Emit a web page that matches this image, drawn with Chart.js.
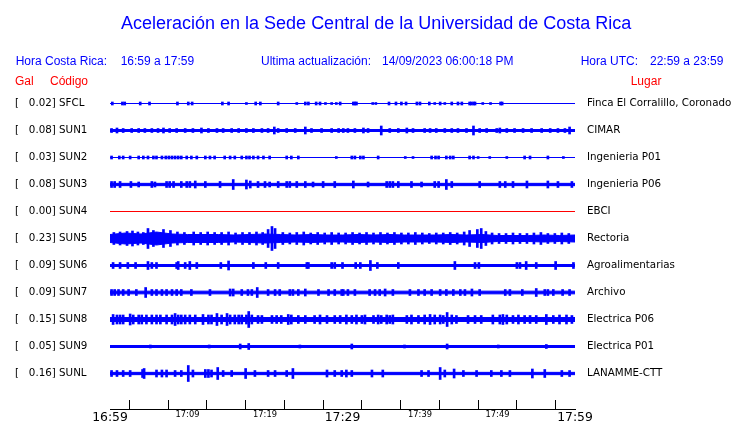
<!DOCTYPE html>
<html>
<head>
<meta charset="utf-8">
<script src="https://cdn.jsdelivr.net/npm/chart.js@4/dist/chart.umd.min.js"></script>
<style>
  body { margin: 0; background: #fff; }
  #wrap { position: relative; width: 740px; height: 423px; overflow: hidden; }
  #sismo { position: absolute; left: 0; top: 0; }
  .t { position: absolute; white-space: pre; line-height: 1; font-family: "Liberation Sans", Arial, sans-serif; font-size: 12px; color: #0000ff; }
  .rojo { color: #ff0000; }
  #titulo { font-size: 18px; left: 121px; top: 14px; }
</style>
</head>
<body>
<div id="wrap">
  <canvas id="sismo" width="740" height="423"></canvas>
  <div class="t" id="titulo">Aceleración en la Sede Central de la Universidad de Costa Rica</div>
  <div class="t" style="left:15.7px; top:54.8px">Hora Costa Rica:</div>
  <div class="t" style="left:120.7px; top:54.8px">16:59 a 17:59</div>
  <div class="t" style="left:261px; top:54.8px">Ultima actualización:</div>
  <div class="t" style="left:382px; top:54.8px">14/09/2023 06:00:18 PM</div>
  <div class="t" style="left:580.7px; top:54.8px">Hora UTC:</div>
  <div class="t" style="left:650px; top:54.8px">22:59 a 23:59</div>
  <div class="t rojo" style="left:15px; top:74.8px">Gal</div>
  <div class="t rojo" style="left:50px; top:74.8px">Código</div>
  <div class="t rojo" style="left:630.7px; top:74.8px">Lugar</div>
</div>
<script>
// canales, de arriba hacia abajo
const codes  = ['SFCL', 'SUN1', 'SUN2', 'SUN3', 'SUN4', 'SUN5', 'SUN6', 'SUN7', 'SUN8', 'SUN9', 'SUNL'];
const peaks  = [0.02, 0.08, 0.03, 0.08, 0.00, 0.23, 0.09, 0.09, 0.15, 0.05, 0.16];
const places = ['Finca El Corralillo, Coronado', 'CIMAR', 'Ingenieria P01', 'Ingenieria P06', 'EBCI', 'Rectoria',
                'Agroalimentarias', 'Archivo', 'Electrica P06', 'Electrica P01', 'LANAMME-CTT'];

// eje de tiempo, minutos desde las 16:59
const tickMinutes = [0, 10, 20, 30, 40, 50, 60];
const timeLabels  = ['16:59', '17:09', '17:19', '17:29', '17:39', '17:49', '17:59'];
const bigLabels   = [0, 30, 60];

// amplitud de fondo (semi-ancho) de cada traza
const coreAmp = [0, 1, 0, 1.15, 0, 4, 1, 1.35, 2, 1, 1.15];

// SUN5 tiene una envolvente variable
const sun5EnvT = [0, 2, 4, 6, 8, 10, 12, 14, 16, 18, 20, 22, 24, 26, 28, 30, 32, 34, 36, 38, 40, 42, 44, 46, 48, 50, 52, 54, 56, 58, 60];
const sun5EnvA = [4, 5.5, 4.5, 6.5, 4.5, 4, 4, 4, 3.5, 4, 4.5, 4, 3.5, 4, 3.5, 3.5, 4, 3.5, 4, 3.5, 3.5, 3.5, 4, 3.5, 4, 3, 3, 3, 3.5, 3, 3.5];

// picos: [minuto, semi-amplitud]
const spikesSFCL = [[0.3,1.5],[1.6,1.5],[1.9,1.5],[3.9,1.5],[5.1,1.5],[8.7,1.5],[10.1,1.5],[10.6,1.5],[14.5,1.5],[15.3,1.5],
  [17.6,1],[18.8,1.5],[19.4,1.5],[21.7,1.5],[24.1,1],[25.2,1.5],[25.6,1.5],[26.6,1.5],[27.1,1.5],[27.8,1],[28.6,1],[29.2,1],
  [29.7,1.5],[31.4,1.5],[31.6,1.5],[31.8,1.5],[33.9,1],[34.3,1],[36.0,1.5],[36.9,1.5],[37.6,1.5],[38.2,1.5],[39.6,1.5],
  [40.0,1.5],[41.2,1.5],[41.9,1],[42.6,1.5],[43.2,1],[44.1,1.5],[44.9,1.5],[45.4,1.5],[46.4,1.5],[46.6,1.5],[46.9,1.5],
  [47.1,1.5],[48.1,1],[49.1,1],[50.4,1.5],[50.6,1.5]];
const spikesSUN1 = [[0.2,2],[0.9,2.5],[1.7,2],[2.8,2],[3.7,2],[4.5,2],[5.4,2],[6.2,2],[6.9,2.5],[7.7,2],[8.6,2],[9.7,2],
  [10.7,2],[11.8,2.5],[12.7,2],[13.8,2],[14.6,2],[15.7,2],[16.6,2],[17.6,2],[18.5,2],[19.6,2],[20.4,2],[21.2,3.5],[21.7,2],
  [22.8,2],[23.9,2],[25.2,3.5],[26.0,2],[27.3,2],[28.6,2],[29.5,2],[30.1,2],[30.7,2],[31.6,2],[32.7,2.5],[33.3,2],[35.0,4.5],
  [36.1,2],[37.2,2],[38.3,2.5],[39.1,2],[40.6,2],[41.3,2],[42.1,2],[43.2,2],[44.1,2],[44.9,2],[46.0,2],[46.9,4.5],[47.7,2],
  [48.6,2],[49.9,2],[50.3,2.5],[51.2,2],[52.2,2],[53.3,2],[54.4,2],[55.7,2],[56.8,2],[57.8,2],[58.7,2],[59.3,3.5]];
const spikesSUN2 = [[0.2,1.5],[1.2,1.5],[1.7,1.5],[2.6,1.5],[3.7,1.5],[4.3,1.5],[4.9,1.5],[5.6,1.5],[6.0,1.5],[6.7,1.5],
  [7.2,1.5],[7.6,1.5],[8.0,1.5],[8.4,1.5],[8.8,1.5],[9.2,1.5],[9.9,1.5],[10.5,1.5],[11.2,1.5],[12.3,1.5],[12.9,1.5],[13.5,1.5],
  [14.8,1.5],[15.5,1.5],[16.1,1.5],[17.0,1.5],[17.6,1.5],[18.0,1.5],[18.5,1.5],[19.1,1.5],[19.8,1.5],[20.6,1.5],[22.8,1.5],
  [23.4,1.5],[24.3,1.5],[29.2,1],[31.2,1.5],[31.6,1.5],[32.3,1.5],[32.7,1.5],[34.6,1.5],[38.1,1],[39.1,1],[41.5,1.5],
  [42.0,1.5],[42.4,1.5],[43.4,1.5],[43.9,1.5],[44.3,1.5],[46.4,1.5],[46.9,1.5],[47.5,1],[49.0,1],[51.2,1],[53.5,1.5],
  [54.2,1.5],[56.5,1.5],[58.5,1]];
const spikesSUN3 = [[0.2,3],[0.6,3],[1.3,3],[2.7,3],[3.7,2.5],[5.4,3],[5.8,2.5],[7.3,3],[7.7,3],[8.2,3],[9.2,3],[9.9,3],
  [10.3,3],[11.0,3.5],[12.3,3],[14.2,3],[15.9,5],[17.6,4.5],[18.1,3.5],[19.1,3],[20.0,3],[20.6,2.5],[21.7,3],[22.8,3],
  [23.2,3],[24.1,3],[25.2,3],[26.2,2.5],[27.5,3],[29.0,3],[31.4,3.5],[33.3,2.5],[35.7,3],[36.1,3],[36.5,3],[37.2,3],
  [38.9,3],[40.2,2.5],[41.9,3],[42.4,3],[43.4,5],[44.1,3],[47.7,3],[50.3,3],[51.0,3],[52.0,3],[53.8,3.5],[56.5,3.5],
  [57.8,3],[59.6,3]];
const spikesSUN4 = [];
const spikesSUN5 = [[0.5,6],[1.3,6.5],[2.2,7],[2.9,7.5],[3.6,6.5],[4.3,6],[4.9,10],[5.6,8],[6.9,9],[7.8,8],[8.7,6.5],
  [9.6,6],[10.8,6.5],[11.7,6],[12.6,6.5],[13.5,6],[14.4,6],[15.3,6.5],[16.2,5.5],[17.1,6],[18.0,6],[18.9,6.5],[19.7,6],
  [20.4,9],[20.9,12],[21.3,10],[22.3,6],[23.2,5.5],[24.1,6],[25.0,6.5],[25.9,5.5],[26.8,6],[27.7,5.5],[28.6,6],[29.5,5.5],
  [30.4,5.5],[31.3,6],[32.2,5.5],[33.1,6],[34.0,5.5],[34.9,6],[35.8,5.5],[36.7,6],[37.6,5.5],[38.5,5.5],[39.4,6],[40.3,5.5],
  [41.2,5],[42.1,5.5],[43.0,5.5],[43.9,6],[44.8,5.5],[45.7,6.5],[46.4,8],[47.4,9],[47.9,10],[48.5,7],[49.3,5.5],[50.2,5],
  [51.1,5],[52.0,5.5],[52.9,5],[53.8,5],[54.7,5.5],[55.6,6],[56.5,5],[57.4,5],[58.3,5.5],[59.2,5]];
const spikesSUN6 = [[0.4,3],[1.3,3],[2.3,3],[3.3,3],[4.9,4],[5.4,3],[6.0,3],[8.6,3],[8.8,4],[9.7,3],[10.3,4],[11.2,3],
  [14.3,3],[15.3,4.5],[18.5,3],[20.1,3],[21.7,3],[25.4,3],[25.6,3],[28.6,3],[29.0,3],[30.0,3],[31.7,3],[32.3,3],[33.6,5],
  [34.5,3],[37.2,3],[44.5,4],[47.1,3],[47.6,3],[52.5,3],[52.9,3],[53.7,4],[55.0,3],[57.5,4],[59.8,3]];
const spikesSUN7 = [[0.2,3],[0.6,3],[1.1,3],[1.7,3],[2.4,3],[3.4,3],[4.6,5],[5.4,3],[6.0,3],[6.7,3],[7.3,3],[8.0,3],
  [8.6,3],[9.2,3],[10.5,3],[12.9,3],[15.5,3.5],[15.9,3.5],[17.0,3],[17.8,3],[18.3,3],[19.0,5],[20.4,3],[21.3,3],[21.9,3],
  [23.2,3],[23.6,3],[24.3,3],[25.2,3.5],[26.9,3],[28.2,3],[29.0,3],[29.9,3],[30.1,3],[30.7,3],[31.6,3],[33.5,3],[34.2,3],
  [34.8,3],[35.5,3.5],[36.5,3],[38.7,3],[39.8,3],[40.6,3],[41.5,3],[42.6,3],[43.4,3],[44.3,3],[45.2,3],[45.8,3],[46.7,3.5],
  [47.7,3],[51.0,3],[51.6,3],[53.2,3],[55.0,4],[56.1,3],[56.5,3],[57.2,3],[58.4,3],[59.3,3]];
const spikesSUN8 = [[0.4,5],[0.9,4.5],[1.3,4.5],[1.7,4.5],[2.6,5.5],[3.0,4.5],[3.7,4.5],[4.1,4.5],[4.7,4.5],[5.4,4.5],
  [6.0,4.5],[6.5,4.5],[7.3,4.5],[8.0,4.5],[8.4,6],[8.8,4.5],[9.2,4.5],[9.7,4.5],[10.3,4.5],[11.0,4.5],[12.0,5],[12.7,4.5],
  [13.1,4.5],[13.8,6],[14.4,4.5],[15.1,6],[15.5,4.5],[16.1,4.5],[16.6,4.5],[17.0,4.5],[17.6,4.5],[17.9,8],[18.3,4.5],
  [19.1,4],[19.6,4],[20.9,4],[21.5,4],[22.1,4],[23.0,5],[23.4,4.5],[24.3,4],[25.2,4],[26.4,4],[27.1,4.5],[28.0,4],[29.0,4],
  [29.7,4],[30.5,4.5],[31.2,4],[31.8,4.5],[32.5,4],[32.9,4.5],[34.0,4],[34.6,4.5],[35.0,4],[35.7,4.5],[36.1,4],[36.5,4.5],
  [38.3,4],[38.9,4.5],[39.8,4],[40.6,4.5],[41.3,5],[41.9,4.5],[42.6,4.5],[43.0,4],[43.5,7],[44.1,4.5],[44.7,4],[46.2,4],
  [47.1,4],[47.9,4],[49.4,4.5],[50.3,4.5],[50.7,5],[51.2,4.5],[52.0,4],[52.7,4.5],[53.5,4],[54.2,4],[55.0,4],[56.3,5],
  [57.2,4],[58.0,4.5],[58.9,4.5],[59.6,4]];
const spikesSUN9 = [[5.2,1.5],[12.8,1.5],[16.8,2.5],[17.9,3],[24.5,1.5],[31.2,2.5],[38.0,1.5],[43.5,2.5],[50.1,1.5],[56.3,2]];
const spikesSUNL = [[0.2,3],[0.9,3],[1.7,3],[2.6,3],[4.2,4],[4.4,5],[6.0,3.5],[6.7,3.5],[7.3,3.5],[8.4,3],[9.2,3],
  [10.1,8],[10.7,3.5],[12.3,4],[12.7,4],[13.1,3.5],[13.9,6],[14.6,3],[15.7,3],[17.5,5],[18.7,3],[20.4,3],[21.3,3],[22.8,3],
  [23.6,5],[28.0,3.5],[29.0,3],[29.9,3],[30.5,3.5],[31.2,3],[33.8,3.5],[35.2,3.5],[40.2,3],[41.1,3],[42.6,6],[43.2,3.5],
  [44.4,4.5],[45.6,3],[47.3,3],[49.2,3],[50.5,3],[51.6,3],[54.5,4.5],[56.1,4],[58.3,3],[59.3,3]];

const spikeSets = [spikesSFCL, spikesSUN1, spikesSUN2, spikesSUN3, spikesSUN4, spikesSUN5,
                   spikesSUN6, spikesSUN7, spikesSUN8, spikesSUN9, spikesSUNL];

const GAIN = 1 / 27;          // amplitud leida -> unidades de canal en el eje y
const BLUE = '#0000ff';
const RED = '#ff0000';
const yMin = -35.5 / 27;
const yMax = yMin + 319 / 27;

function buildDatasets() {
    let datasets = [];
    let bars = [];
    codes.forEach((code, i) => {
        let off = codes.length - 1 - i;
        let color = peaks[i] === 0 ? RED : BLUE;
        let t = code === 'SUN5' ? sun5EnvT : [tickMinutes[0], tickMinutes[tickMinutes.length - 1]];
        let a = code === 'SUN5' ? sun5EnvA : [coreAmp[i], coreAmp[i]];
        datasets.push({
            type: 'line', data: t.map((x, k) => ({ x: x, y: off + a[k] * GAIN })),
            borderColor: color, backgroundColor: color, borderWidth: 1, pointRadius: 0, fill: false
        });
        datasets.push({
            type: 'line', data: t.map((x, k) => ({ x: x, y: off - a[k] * GAIN })),
            borderColor: color, backgroundColor: color, borderWidth: 1, pointRadius: 0, fill: '-1'
        });
        spikeSets[i].forEach(s => bars.push({ x: s[0], y: [off - s[1] * GAIN, off + s[1] * GAIN] }));
    });
    datasets.push({ type: 'bar', data: bars, backgroundColor: BLUE, borderWidth: 0, barThickness: 2 });
    return datasets;
}

function channelLabel(list, value) {
    let i = codes.length - 1 - Math.round(value);
    return list(i);
}

const ctx = document.getElementById('sismo').getContext('2d');
new Chart(ctx, {
    type: 'bar',
    data: { datasets: buildDatasets() },
    options: {
        responsive: false,
        animation: false,
        devicePixelRatio: 1,
        layout: { padding: { left: 15, top: 90, right: 0, bottom: 0 } },
        plugins: { legend: { display: false }, tooltip: { enabled: false } },
        scales: {
            x: {
                type: 'linear', min: 0, max: 60, offset: false,
                grid: { drawOnChartArea: false, drawTicks: true, tickLength: -9, color: '#000', lineWidth: 1 },
                border: { display: true, color: '#000', width: 1 },
                ticks: {
                    stepSize: 5, autoSkip: false, maxRotation: 0, padding: 10, color: '#000',
                    font: c => ({ family: 'DejaVu Sans', size: (c.tick && bigLabels.includes(c.tick.value)) ? 12.4 : 8.3 }),
                    callback: v => { let k = tickMinutes.indexOf(v); return k < 0 ? '' : timeLabels[k]; }
                },
                afterFit: s => { s.height = 14; }
            },
            y: {
                position: 'left', min: yMin, max: yMax,
                grid: { display: false, drawTicks: false }, border: { display: false },
                afterBuildTicks: s => { s.ticks = codes.map((c, i) => ({ value: codes.length - 1 - i })); },
                ticks: {
                    crossAlign: 'far', autoSkip: false, padding: 0, color: '#000',
                    font: { family: 'DejaVu Sans', size: 10.3 },
                    callback: v => channelLabel(i => '[   ' + peaks[i].toFixed(2) + '] ' + codes[i], v)
                },
                afterFit: s => { s.width = 95; }
            },
            y2: {
                position: 'right', min: yMin, max: yMax,
                // el largo de la marca (sin dibujarla) separa el texto del trazo
                grid: { display: false, drawTicks: true, tickLength: 12 }, border: { display: false },
                afterBuildTicks: s => { s.ticks = codes.map((c, i) => ({ value: codes.length - 1 - i })); },
                ticks: {
                    padding: 0, autoSkip: false, color: '#000',
                    font: { family: 'DejaVu Sans', size: 10.3 },
                    callback: v => channelLabel(i => places[i], v)
                },
                afterFit: s => { s.width = 165; }
            }
        }
    }
});
</script>
</body>
</html>
